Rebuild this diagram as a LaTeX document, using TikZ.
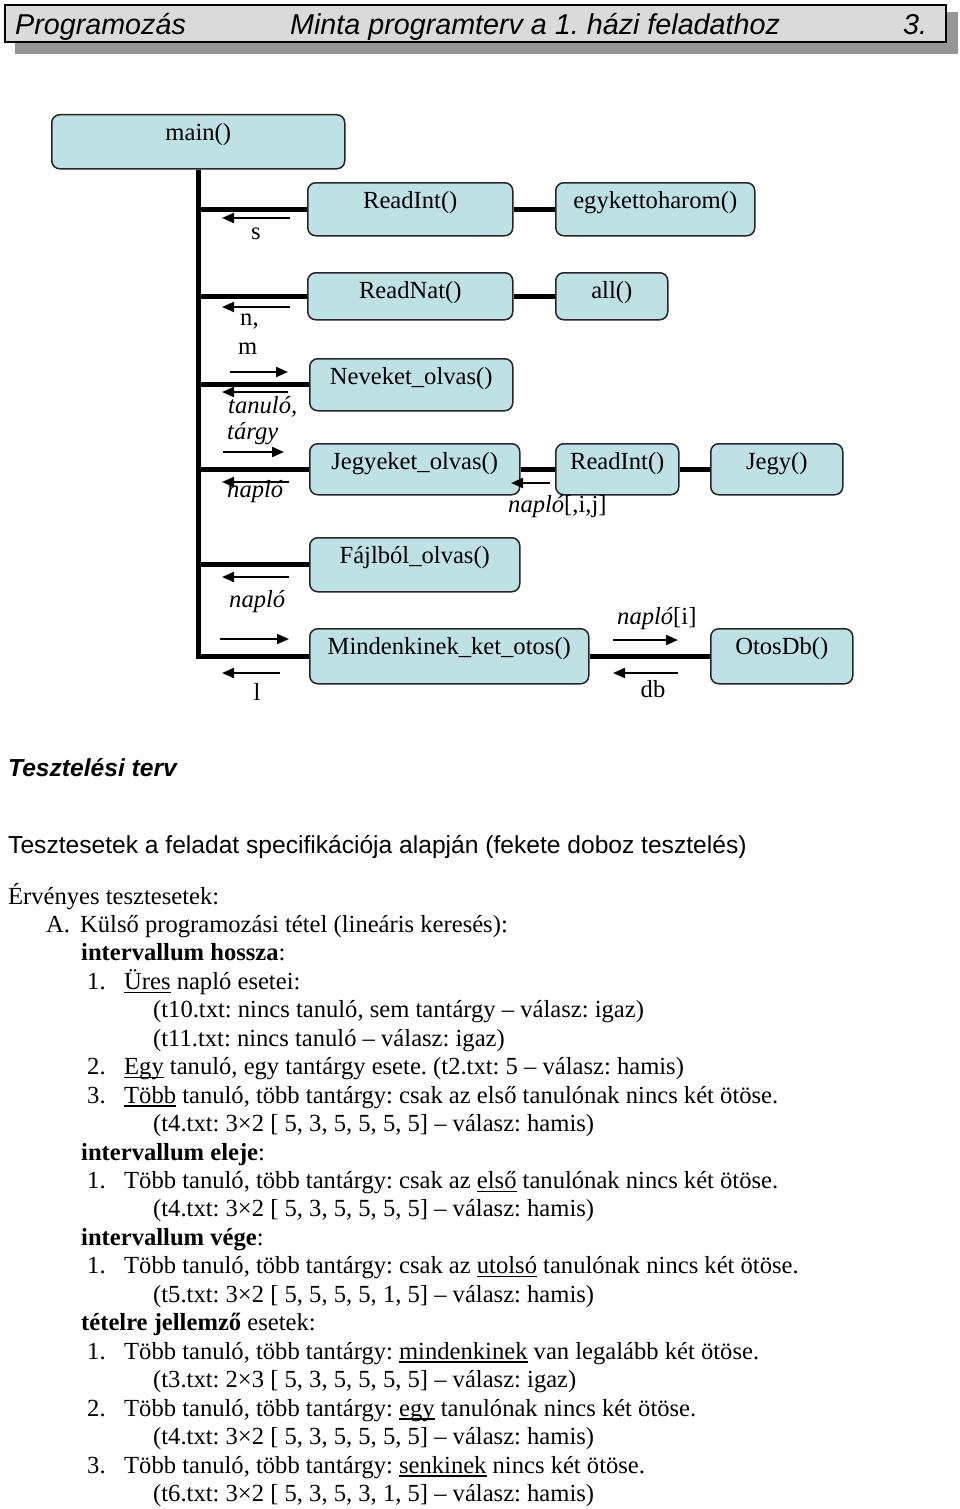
\documentclass[tikz,border=0pt]{standalone}
\usepackage{fontspec}
\setmainfont{Liberation Serif}
\newfontfamily\arialf{Liberation Sans}
\usetikzlibrary{arrows.meta}
\definecolor{boxfill}{RGB}{190,225,229}
\definecolor{headfill}{RGB}{218,218,218}
\definecolor{shadowgray}{RGB}{150,150,150}
\newcommand\myul[1]{\setbox0=\hbox{#1}\makebox[0pt][l]{\rule[-3.5pt]{\wd0}{1.3pt}}\box0\relax}
\newcommand\lineat[1]{{904+28.45*#1}}
\frenchspacing
\begin{document}
\frenchspacing
\begin{tikzpicture}[x=1pt,y=-1pt,
  box/.style={draw=black!85, line width=1.5pt, rounded corners=8pt, fill=boxfill,
    anchor=north west, inner xsep=0pt, inner ysep=0pt, text height=26pt,
    font=\fontsize{24.6}{28}\selectfont},
  trunk/.style={line width=5pt},
  flow/.style={line width=2pt, -{Triangle[length=12pt,width=10pt]}},
  dlab/.style={inner sep=0pt, anchor=base, font=\fontsize{24.6}{28}\selectfont},
  dlabw/.style={inner sep=0pt, anchor=base west, font=\fontsize{24.6}{28}\selectfont},
  htxt/.style={inner sep=0pt, anchor=base west, font=\arialf\itshape\fontsize{28.7}{30}\selectfont},
  stxt/.style={inner sep=0pt, anchor=base west, font=\arialf\fontsize{24.6}{28}\selectfont},
  btxt/.style={inner sep=0pt, anchor=base west, font=\fontsize{24.6}{28}\selectfont},
]
\useasboundingbox (0,0) rectangle (960,1509);
\fill[white] (0,0) rectangle (960,1509);

% header
\fill[shadowgray] (15,12) rectangle (958,54);
\node[draw, line width=2pt, fill=headfill, anchor=north west, minimum width=941pt,
  minimum height=37pt, inner sep=0pt] (head) at (4,4) {};
\node[htxt] (h1) at (15,35) {Programozás};
\node[htxt] (h2) at (290,35) {Minta programterv a 1. házi feladathoz};
\node[htxt] (h3) at (903,35) {3.};

% boxes
\node[box, minimum width=293pt, text depth=28pt] (main) at (51,114) {main()};
\node[box, minimum width=205pt, text depth=27pt] (ri) at (307,182) {ReadInt()};
\node[box, minimum width=199pt, text depth=27pt] (egy) at (555,182) {egykettoharom()};
\node[box, minimum width=205pt, text depth=21pt] (rn) at (307,272) {ReadNat()};
\node[box, minimum width=112pt, text depth=21pt] (all) at (555,272) {all()};
\node[box, minimum width=203pt, text depth=26pt] (nev) at (309,358) {Neveket\_olvas()};
\node[box, minimum width=210pt, text depth=25pt] (jeg) at (309,443) {Jegyeket\_olvas()};
\node[box, minimum width=123pt, text depth=25pt] (ri2) at (555,443) {ReadInt()};
\node[box, minimum width=132pt, text depth=25pt] (jegy) at (710,443) {Jegy()};
\node[box, minimum width=210pt, text depth=28pt] (fajl) at (309,537) {Fájlból\_olvas()};
\node[box, minimum width=279pt, text depth=29pt] (mko) at (309,628) {Mindenkinek\_ket\_otos()};
\node[box, minimum width=142pt, text depth=29pt] (otos) at (710,628) {OtosDb()};

% thick connectors
\draw[trunk] (main.south) |- (mko.west);
\draw[trunk] (main.south |- ri.west) -- (ri.west);
\draw[trunk] (main.south |- rn.west) -- (rn.west);
\draw[trunk] (main.south |- nev.west) -- (nev.west);
\draw[trunk] (main.south |- jeg.west) -- (jeg.west);
\draw[trunk] (main.south |- fajl.west) -- (fajl.west);
\draw[trunk] (ri.east) -- (egy.west);
\draw[trunk] (rn.east) -- (all.west);
\draw[trunk] (jeg.east) -- (ri2.west);
\draw[trunk] (ri2.east) -- (jegy.west);
\draw[trunk] (mko.east) -- (otos.west);

% data flow arrows
\path (290,218) coordinate (a1s) (222,218) coordinate (a1e);
\path (290,307) coordinate (a2s) (222,307) coordinate (a2e);
\path (230,372) coordinate (a3s) (288,372) coordinate (a3e);
\path (288,392) coordinate (a4s) (222,392) coordinate (a4e);
\path (223,452) coordinate (a5s) (284,452) coordinate (a5e);
\path (289,482) coordinate (a6s) (222,482) coordinate (a6e);
\path (550,483) coordinate (a7s) (511,483) coordinate (a7e);
\path (289,577) coordinate (a8s) (222,577) coordinate (a8e);
\path (220,639) coordinate (a9s) (289,639) coordinate (a9e);
\path (280,673) coordinate (a10s) (222,673) coordinate (a10e);
\path (613,640) coordinate (a11s) (678,640) coordinate (a11e);
\path (678,673) coordinate (a12s) (613,673) coordinate (a12e);
\foreach \i in {1,...,12} {\draw[flow] (a\i s) -- (a\i e);}

% flow labels
\node[dlab] (ls) at (256,239) {s};
\node[dlabw] (ln) at (240,325) {n,};
\node[dlabw] (lm) at (238,354) {m};
\node[dlabw] (lt1) at (228,413) {\itshape tanuló,};
\node[dlabw] (lt2) at (227,439) {\itshape tárgy};
\node[dlabw] (lnap1) at (227,497) {\itshape napló};
\node[dlabw] (lnij) at (508,512) {\textit{napló}[,i,j]};
\node[dlabw] (lnap2) at (229,607) {\itshape napló};
\node[dlabw] (lni) at (617,624) {\textit{napló}[i]};
\node[dlab] (ll) at (257,700) {l};
\node[dlab] (ldb) at (653,697) {db};

% text part
\node[stxt, font=\arialf\bfseries\itshape\fontsize{24.6}{28}\selectfont] (tt) at (8,776) {Tesztelési terv};
\node[stxt] (ts) at (8,853) {Tesztesetek a feladat specifikációja alapján (fekete doboz tesztelés)};

\node[btxt] (t0) at (8,\lineat{0}) {Érvényes tesztesetek:};
\node[btxt] (t1) at (46,\lineat{1}) {\makebox[34pt][l]{A.}Külső programozási tétel (lineáris keresés):};
\node[btxt] (t2) at (81,\lineat{2}) {\textbf{intervallum hossza}:};
\node[btxt] (t3) at (87,\lineat{3}) {\makebox[37pt][l]{1.}\myul{Üres} napló esetei:};
\node[btxt] (t4) at (153,\lineat{4}) {(t10.txt: nincs tanuló, sem tantárgy – válasz: igaz)};
\node[btxt] (t5) at (153,\lineat{5}) {(t11.txt: nincs tanuló – válasz: igaz)};
\node[btxt] (t6) at (87,\lineat{6}) {\makebox[37pt][l]{2.}\myul{Egy} tanuló, egy tantárgy esete. (t2.txt: 5 – válasz: hamis)};
\node[btxt] (t7) at (87,\lineat{7}) {\makebox[37pt][l]{3.}\myul{Több} tanuló, több tantárgy: csak az első tanulónak nincs két ötöse.};
\node[btxt] (t8) at (153,\lineat{8}) {(t4.txt: 3×2 [ 5, 3, 5, 5, 5, 5] – válasz: hamis)};
\node[btxt] (t9) at (81,\lineat{9}) {\textbf{intervallum eleje}:};
\node[btxt] (t10) at (87,\lineat{10}) {\makebox[37pt][l]{1.}Több tanuló, több tantárgy: csak az \myul{első} tanulónak nincs két ötöse.};
\node[btxt] (t11) at (153,\lineat{11}) {(t4.txt: 3×2 [ 5, 3, 5, 5, 5, 5] – válasz: hamis)};
\node[btxt] (t12) at (81,\lineat{12}) {\textbf{intervallum vége}:};
\node[btxt] (t13) at (87,\lineat{13}) {\makebox[37pt][l]{1.}Több tanuló, több tantárgy: csak az \myul{utolsó} tanulónak nincs két ötöse.};
\node[btxt] (t14) at (153,\lineat{14}) {(t5.txt: 3×2 [ 5, 5, 5, 5, 1, 5] – válasz: hamis)};
\node[btxt] (t15) at (81,\lineat{15}) {\textbf{tételre jellemző} esetek:};
\node[btxt] (t16) at (87,\lineat{16}) {\makebox[37pt][l]{1.}Több tanuló, több tantárgy: \myul{mindenkinek} van legalább két ötöse.};
\node[btxt] (t17) at (153,\lineat{17}) {(t3.txt: 2×3 [ 5, 3, 5, 5, 5, 5] – válasz: igaz)};
\node[btxt] (t18) at (87,\lineat{18}) {\makebox[37pt][l]{2.}Több tanuló, több tantárgy: \myul{egy} tanulónak nincs két ötöse.};
\node[btxt] (t19) at (153,\lineat{19}) {(t4.txt: 3×2 [ 5, 3, 5, 5, 5, 5] – válasz: hamis)};
\node[btxt] (t20) at (87,\lineat{20}) {\makebox[37pt][l]{3.}Több tanuló, több tantárgy: \myul{senkinek} nincs két ötöse.};
\node[btxt] (t21) at (153,\lineat{21}) {(t6.txt: 3×2 [ 5, 3, 5, 3, 1, 5] – válasz: hamis)};
\end{tikzpicture}
\end{document}
